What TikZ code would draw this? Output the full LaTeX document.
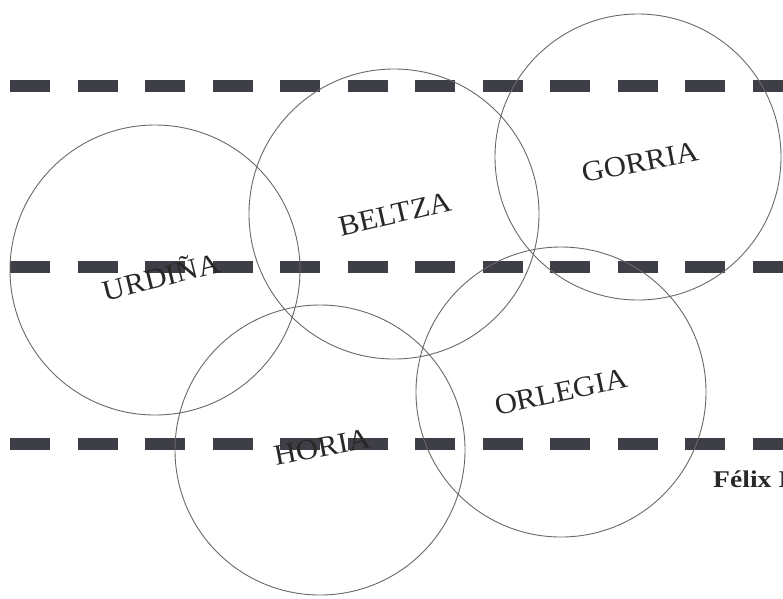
\documentclass[tikz,border=0pt]{standalone}
\usepackage{fontspec}
\usepackage{tikz}
\newfontfamily\wordfont[FakeStretch=1.06]{Liberation Serif}
\newfontfamily\creditfont[FakeStretch=1.15]{Liberation Serif}
\definecolor{dashgray}{RGB}{62,62,70}
\definecolor{ringgray}{RGB}{105,105,105}
\definecolor{inkgray}{RGB}{40,40,40}
\begin{document}
\begin{tikzpicture}[x=1pt,y=-1pt,
  band/.style={line width=12pt, dashgray, dash pattern=on 40pt off 27.5pt},
  ring/.style={circle, draw=ringgray, line width=0.9pt, minimum size=290pt, inner sep=0pt},
  word/.style={inkgray, font=\wordfont\fontsize{29}{32}\selectfont, inner sep=0pt},
  credit/.style={inkgray, font=\creditfont\bfseries\fontsize{24}{26}\selectfont, inner sep=0pt, anchor=base west}]
\useasboundingbox (0,0) rectangle (783,598);
\fill[white] (0,0) rectangle (783,598);
% dashed bands
\coordinate (b1s) at (10,85.5);  \coordinate (b1e) at (820,85.5);
\coordinate (b2s) at (10,267);   \coordinate (b2e) at (820,267);
\coordinate (b3s) at (10,444);   \coordinate (b3e) at (820,444);
\draw[band] (b1s) -- (b1e);
\draw[band] (b2s) -- (b2e);
\draw[band] (b3s) -- (b3e);
% circles
\node[ring] (urdina) at (155,270) {};
\node[ring] (beltza) at (394,214) {};
\node[ring, minimum size=286pt] (gorria) at (638,157) {};
\node[ring] (horia) at (320,450) {};
\node[ring] (orlegia) at (561,392) {};
% labels
\node[word, rotate=14] (lurdina) at (161,275) {URDIÑA};
\node[word, rotate=13] (lbeltza) at (395,214) {BELTZA};
\node[word, rotate=11] (lgorria) at (640,162) {GORRIA};
\node[word, rotate=11] (lhoria) at (322,447) {HORIA};
\node[word, rotate=12] (lorlegia) at (561,392) {ORLEGIA};
\node[credit] (credit) at (713,487) {Félix I};
\end{tikzpicture}
\end{document}
